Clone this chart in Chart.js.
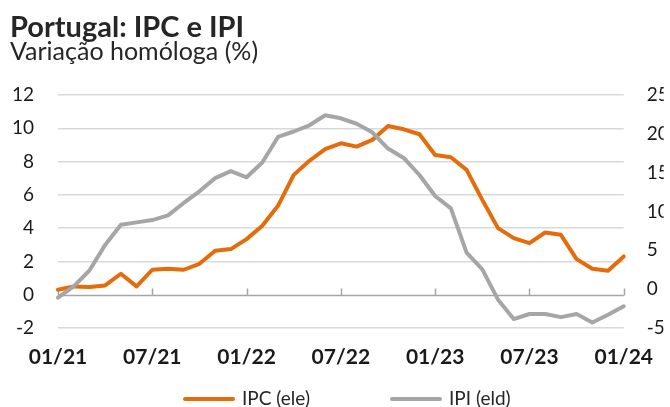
<!DOCTYPE html>
<html><head><meta charset="utf-8">
<script src="https://cdn.jsdelivr.net/npm/chart.js@4.4.1/dist/chart.umd.min.js"></script>
<style>html,body{margin:0;padding:0;background:#fff;}#wrap{width:670px;height:407px;position:relative;}</style>
</head><body><div id="wrap"><canvas id="c"></canvas></div>
<script>
const months = ['01/21','02/21','03/21','04/21','05/21','06/21','07/21','08/21','09/21','10/21','11/21','12/21',
  '01/22','02/22','03/22','04/22','05/22','06/22','07/22','08/22','09/22','10/22','11/22','12/22',
  '01/23','02/23','03/23','04/23','05/23','06/23','07/23','08/23','09/23','10/23','11/23','12/23','01/24'];
const ipc = [0.3, 0.5, 0.46, 0.56, 1.26, 0.5, 1.5, 1.56, 1.5, 1.86, 2.64, 2.74,
  3.34, 4.14, 5.34, 7.2, 8.05, 8.75, 9.1, 8.9, 9.3, 10.14, 9.94, 9.64,
  8.4, 8.26, 7.5, 5.7, 4.0, 3.4, 3.1, 3.74, 3.6, 2.14, 1.56, 1.44, 2.3];
const ipi = [-1.1, 0.35, 2.4, 5.7, 8.3, 8.6, 8.9, 9.5, 11.1, 12.6, 14.3, 15.2,
  14.4, 16.3, 19.6, 20.3, 21.1, 22.4, 22.0, 21.3, 20.2, 18.1, 16.9, 14.7,
  12.0, 10.4, 4.7, 2.55, -1.35, -3.85, -3.2, -3.2, -3.6, -3.2, -4.3, -3.3, -2.2];
const leftRange = [-2, 12, 2];
const rightRange = [-5, 25, 5];
const seriesLabels = ['IPC (ele)', 'IPI (eld)'];

const zeroAxis = {
  id: 'zeroAxis',
  beforeDatasetsDraw(chart) {
    const {ctx, chartArea, scales: {x, y}} = chart;
    const y0 = Math.round(y.getPixelForValue(0)) + 0.5;
    ctx.save();
    ctx.strokeStyle = '#a6a6a6';
    ctx.lineWidth = 1.5;
    ctx.beginPath();
    ctx.moveTo(chartArea.left, y0);
    ctx.lineTo(chartArea.right, y0);
    months.forEach((m, i) => {
      if (i % 6 === 0) {
        const px = Math.round(x.getPixelForValue(i)) + 0.5;
        ctx.moveTo(px, y0);
        ctx.lineTo(px, y0 - 7);
      }
    });
    ctx.stroke();
    ctx.restore();
  }
};

const customLegend = {
  id: 'customLegend',
  afterDraw(chart) {
    const ctx = chart.ctx;
    const yc = 399;
    let xPos = 183;
    ctx.save();
    ctx.font = '19px Lato';
    ctx.textBaseline = 'middle';
    ctx.textAlign = 'left';
    chart.data.datasets.forEach(ds => {
      ctx.strokeStyle = ds.borderColor;
      ctx.lineWidth = 4;
      ctx.lineCap = 'round';
      ctx.beginPath();
      ctx.moveTo(xPos + 2, yc);
      ctx.lineTo(xPos + 50, yc);
      ctx.stroke();
      ctx.fillStyle = '#262626';
      ctx.fillText(ds.label, xPos + 59, yc);
      xPos += 59 + ctx.measureText(ds.label).width + 80;
    });
    ctx.restore();
  }
};

new Chart(document.getElementById('c'), {
  type: 'line',
  data: {
    labels: months,
    datasets: [
      {label: seriesLabels[0], data: ipc, yAxisID: 'y', borderColor: '#E46C0A', backgroundColor: '#E46C0A',
       borderWidth: 4, pointRadius: 0, tension: 0, borderJoinStyle: 'round', borderCapStyle: 'round', order: 1},
      {label: seriesLabels[1], data: ipi, yAxisID: 'y1', borderColor: '#A6A6A6', backgroundColor: '#A6A6A6',
       borderWidth: 4, pointRadius: 0, tension: 0, borderJoinStyle: 'round', borderCapStyle: 'round', order: 0}
    ]
  },
  options: {
    responsive: true,
    maintainAspectRatio: false,
    animation: false,
    devicePixelRatio: 1,
    layout: {padding: {left: 10, right: 6, top: 0, bottom: 37}},
    plugins: {
      legend: {display: false},
      tooltip: {enabled: false},
      title: {display: true, text: 'Portugal: IPC e IPI', align: 'start', color: '#262626',
        font: {family: 'Lato', size: 29, weight: 'bold', lineHeight: 1}, padding: {top: 13, bottom: 0}},
      subtitle: {display: true, text: 'Variação homóloga (%)', align: 'start', color: '#262626',
        font: {family: 'Lato', size: 25, weight: 'normal', lineHeight: 1}, padding: {top: -3, bottom: 31}}
    },
    scales: {
      x: {
        type: 'category', offset: false,
        grid: {display: false, drawTicks: false}, border: {display: false},
        afterFit(s) { s.height = 42; },
        ticks: {autoSkip: false, maxRotation: 0, minRotation: 0, padding: 17, color: '#1a1a1a',
          font: {family: 'Lato', size: 21, weight: 'bold'},
          callback(v, i) { return i % 6 === 0 ? months[i] : ''; }}
      },
      y: {
        position: 'left', min: leftRange[0], max: leftRange[1],
        grid: {drawTicks: false, lineWidth: 1.5,
          color: c => (c.tick && c.tick.value === 0) ? 'rgba(0,0,0,0)' : '#d9d9d9'},
        border: {display: false},
        afterFit(s) { s.width = 48; },
        ticks: {stepSize: leftRange[2], padding: 24, color: '#1a1a1a', font: {family: 'Lato', size: 19}}
      },
      y1: {
        position: 'right', min: rightRange[0], max: rightRange[1],
        grid: {drawOnChartArea: false, drawTicks: false},
        border: {display: false},
        afterFit(s) { s.width = 40; },
        ticks: {stepSize: rightRange[2], padding: 23, color: '#1a1a1a', font: {family: 'Lato', size: 19}}
      }
    }
  },
  plugins: [zeroAxis, customLegend]
});
</script></body></html>
